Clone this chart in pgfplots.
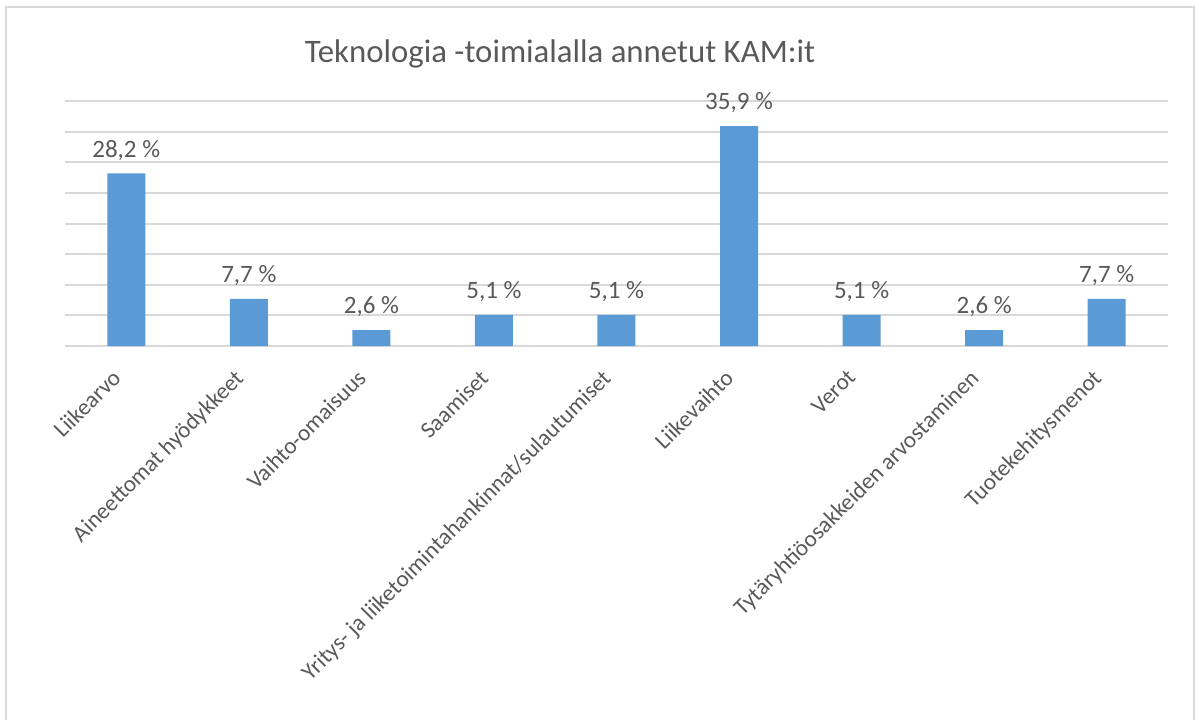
\documentclass[border=0pt]{standalone}
\usepackage{fontspec}
\setmainfont{Carlito}
\usepackage{xcolor}
\usepackage{pgfplots}
\pgfplotsset{compat=1.18}
\definecolor{barc}{HTML}{5B9BD5}
\definecolor{txt}{HTML}{595959}
\definecolor{gridc}{HTML}{D9D9D9}

\begin{document}
\begin{tikzpicture}
\useasboundingbox (0,0) rectangle (600bp,360bp);
\draw[gridc, line width=1bp] (3bp,-10bp) rectangle (597bp,356.5bp);
\node[anchor=base, text=txt, font=\fontsize{16.4bp}{20bp}\selectfont]
  at (280bp,328.5bp) {Teknologia -toimialalla annetut KAM:it};
\begin{axis}[
  at={(32.5bp,187bp)}, anchor=south west,
  scale only axis, width=551.5bp, height=122.5bp,
  xmin=-0.5, xmax=8.5, ymin=0, ymax=40,
  xtick={0,...,8}, ytick={0,5,...,40},
  yticklabels={}, major tick length=0pt,
  axis line style={draw=none},
  xmajorgrids=false, ymajorgrids=true,
  grid style={draw=gridc, line width=1bp},
  xticklabels={Liikearvo, Aineettomat hyödykkeet, Vaihto-omaisuus, Saamiset,
    Yritys- ja liiketoimintahankinnat/sulautumiset, Liikevaihto, Verot,
    Tytäryhtiöosakkeiden arvostaminen, Tuotekehitysmenot},
  % shifts are taken in the rotated frame
  xticklabel style={rotate=45, anchor=north east, inner sep=0pt,
    font=\fontsize{11.6bp}{14bp}\selectfont, text=txt, xshift=-13.2bp, yshift=-2.2bp},
  clip=false,
]
\addplot[ybar, bar width=19bp, fill=barc, draw=none,
  nodes near coords, point meta=explicit symbolic,
  every node near coord/.append style={font=\fontsize{12.5bp}{15bp}\selectfont,
    text=txt, anchor=south, yshift=3bp}]
coordinates {(0,28.2)[28,2 \%] (1,7.7)[7,7 \%] (2,2.6)[2,6 \%] (3,5.1)[5,1 \%]
  (4,5.1)[5,1 \%] (5,35.9)[35,9 \%] (6,5.1)[5,1 \%] (7,2.6)[2,6 \%]
  (8,7.7)[7,7 \%]};
\end{axis}
\end{tikzpicture}
\end{document}
